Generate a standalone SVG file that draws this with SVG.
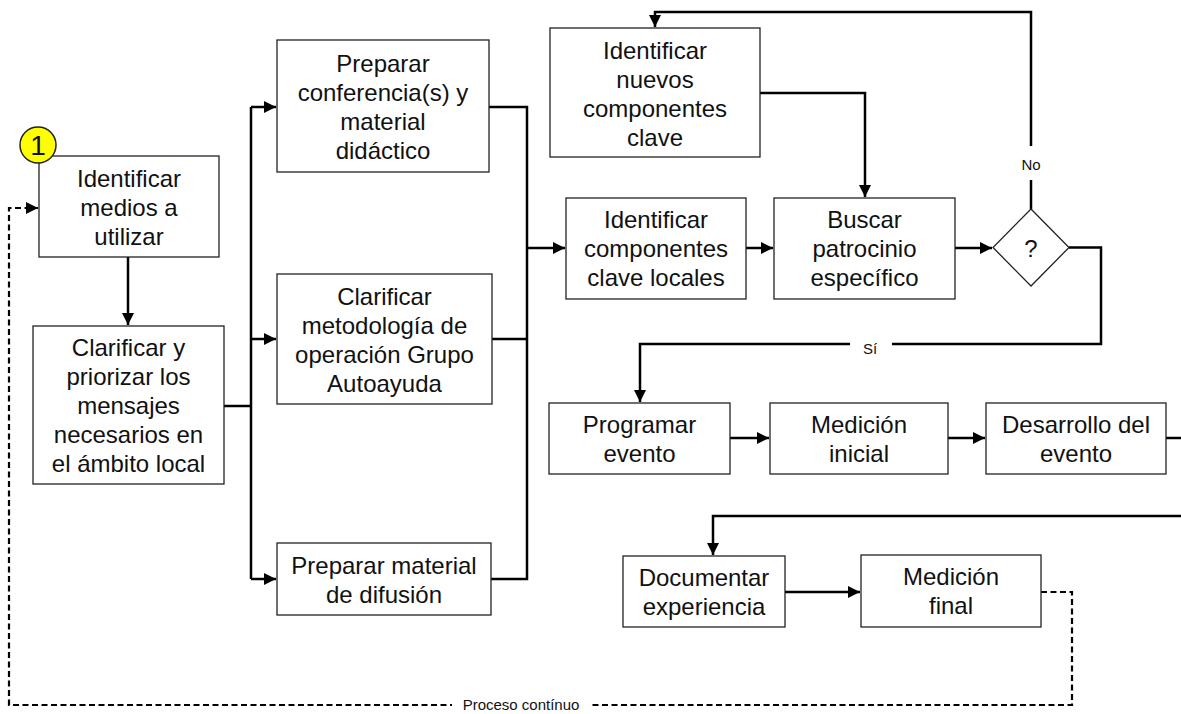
<svg xmlns="http://www.w3.org/2000/svg" width="1181" height="714" viewBox="0 0 1181 714">
  <style>
    .box { fill: #ffffff; stroke: #222222; stroke-width: 1.3; }
    .lbl { font-family: "Liberation Sans", Arial, sans-serif; font-size: 24px; fill: #111111; text-anchor: middle; }
    .small { font-family: "Liberation Sans", Arial, sans-serif; font-size: 15px; fill: #111111; text-anchor: middle; }
    .link { fill: none; stroke: #000000; stroke-width: 2.5; }
    .dash { fill: none; stroke: #000000; stroke-width: 2.2; stroke-dasharray: 6 3.5; }
    .bg { fill: #ffffff; stroke: none; }
  </style>
  <defs>
    <marker id="arrow" markerUnits="userSpaceOnUse" markerWidth="13" markerHeight="13" refX="12" refY="6" orient="auto">
      <path d="M0,0 L12,6 L0,12 z" fill="#000000"/>
    </marker>
  </defs>
  <rect width="1181" height="714" fill="#ffffff"/>

  <!-- connectors -->
  <g id="connectors">
    <path class="link" d="M128 257 V325" marker-end="url(#arrow)"/>
    <path class="link" d="M224 406 H251"/>
    <path class="link" d="M251 107 V579"/>
    <path class="link" d="M251 107 H276" marker-end="url(#arrow)"/>
    <path class="link" d="M251 339 H276" marker-end="url(#arrow)"/>
    <path class="link" d="M251 579 H276" marker-end="url(#arrow)"/>
    <path class="link" d="M489 107 H527 V579 H491"/>
    <path class="link" d="M492 339 H527"/>
    <path class="link" d="M527 248 H565" marker-end="url(#arrow)"/>
    <path class="link" d="M746 248 H773" marker-end="url(#arrow)"/>
    <path class="link" d="M760 93 H865 V197" marker-end="url(#arrow)"/>
    <path class="link" d="M955 248 H992" marker-end="url(#arrow)"/>
    <path class="link" d="M1031 209 V12 H655 V27" marker-end="url(#arrow)"/>
    <path class="link" d="M1069 247.5 H1101 V344 H640 V402" marker-end="url(#arrow)"/>
    <path class="link" d="M730 438 H769" marker-end="url(#arrow)"/>
    <path class="link" d="M948 438 H985" marker-end="url(#arrow)"/>
    <path class="link" d="M1166 438 H1181"/>
    <path class="link" d="M1181 516 H713 V555" marker-end="url(#arrow)"/>
    <path class="link" d="M785 592 H860" marker-end="url(#arrow)"/>
    <path class="dash" d="M1041 592 H1072 V705 H9 V208 H38" marker-end="url(#arrow)"/>
    <!-- connector labels -->
    <rect class="bg" x="1020" y="146" width="22" height="34"/>
    <text class="small" x="1031" y="170">No</text>
    <rect class="bg" x="850" y="334" width="42" height="20"/>
    <text class="small" x="870" y="354">Sí</text>
    <rect class="bg" x="452" y="695" width="140" height="19"/>
    <text class="small" x="521" y="710">Proceso contínuo</text>
  </g>

  <g id="n1">
    <rect class="box" x="39" y="156" width="180" height="101"/>
    <text class="lbl" x="129" y="187">Identificar</text>
    <text class="lbl" x="129" y="216">medios a</text>
    <text class="lbl" x="129" y="245">utilizar</text>
    <circle cx="38" cy="145" r="18" fill="#ffff00" stroke="#222222" stroke-width="1.5"/>
    <text x="38" y="155" font-family="Liberation Sans, Arial, sans-serif" font-size="28" text-anchor="middle" fill="#111111">1</text>
  </g>

  <g id="n2">
    <rect class="box" x="33" y="326" width="191" height="158"/>
    <text class="lbl" x="128.5" y="356">Clarificar y</text>
    <text class="lbl" x="128.5" y="385">priorizar los</text>
    <text class="lbl" x="128.5" y="414">mensajes</text>
    <text class="lbl" x="128.5" y="443">necesarios en</text>
    <text class="lbl" x="128.5" y="472">el ámbito local</text>
  </g>

  <g id="n3">
    <rect class="box" x="277" y="40" width="212" height="132"/>
    <text class="lbl" x="383" y="72">Preparar</text>
    <text class="lbl" x="383" y="101">conferencia(s) y</text>
    <text class="lbl" x="383" y="130">material</text>
    <text class="lbl" x="383" y="159">didáctico</text>
  </g>

  <g id="n4">
    <rect class="box" x="277" y="274" width="215" height="130"/>
    <text class="lbl" x="384.5" y="305">Clarificar</text>
    <text class="lbl" x="384.5" y="334">metodología de</text>
    <text class="lbl" x="384.5" y="363">operación Grupo</text>
    <text class="lbl" x="384.5" y="392">Autoayuda</text>
  </g>

  <g id="n5">
    <rect class="box" x="277" y="543" width="214" height="72"/>
    <text class="lbl" x="384" y="574">Preparar material</text>
    <text class="lbl" x="384" y="603">de difusión</text>
  </g>

  <g id="n6">
    <rect class="box" x="550" y="28" width="210" height="129"/>
    <text class="lbl" x="655" y="59">Identificar</text>
    <text class="lbl" x="655" y="88">nuevos</text>
    <text class="lbl" x="655" y="117">componentes</text>
    <text class="lbl" x="655" y="146">clave</text>
  </g>

  <g id="n7">
    <rect class="box" x="566" y="198" width="180" height="101"/>
    <text class="lbl" x="656" y="228">Identificar</text>
    <text class="lbl" x="656" y="257">componentes</text>
    <text class="lbl" x="656" y="286">clave locales</text>
  </g>

  <g id="n8">
    <rect class="box" x="774" y="198" width="181" height="101"/>
    <text class="lbl" x="864.5" y="228">Buscar</text>
    <text class="lbl" x="864.5" y="257">patrocinio</text>
    <text class="lbl" x="864.5" y="286">específico</text>
  </g>

  <g id="decision">
    <polygon class="box" points="1031,209 1069,247.5 1031,286 993,247.5"/>
    <text class="lbl" x="1031" y="257" font-size="22">?</text>
  </g>

  <g id="n9">
    <rect class="box" x="549" y="403" width="181" height="71"/>
    <text class="lbl" x="639.5" y="433">Programar</text>
    <text class="lbl" x="639.5" y="462">evento</text>
  </g>

  <g id="n10">
    <rect class="box" x="770" y="403" width="178" height="71"/>
    <text class="lbl" x="859" y="433">Medición</text>
    <text class="lbl" x="859" y="462">inicial</text>
  </g>

  <g id="n11">
    <rect class="box" x="986" y="403" width="180" height="71"/>
    <text class="lbl" x="1076" y="433">Desarrollo del</text>
    <text class="lbl" x="1076" y="462">evento</text>
  </g>

  <g id="n12">
    <rect class="box" x="623" y="556" width="162" height="71"/>
    <text class="lbl" x="704" y="586">Documentar</text>
    <text class="lbl" x="704" y="615">experiencia</text>
  </g>

  <g id="n13">
    <rect class="box" x="861" y="555" width="180" height="72"/>
    <text class="lbl" x="951" y="585">Medición</text>
    <text class="lbl" x="951" y="614">final</text>
  </g>
</svg>
